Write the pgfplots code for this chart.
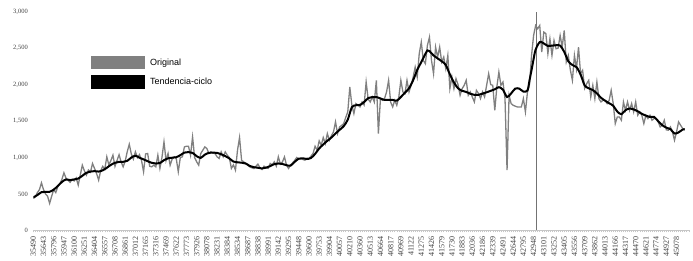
\documentclass[border=0pt]{standalone}
\usepackage{fontspec}
\setmainfont{Liberation Serif}
\setsansfont{Liberation Sans}
\usepackage{pgfplots}
\pgfplotsset{compat=1.18}
\definecolor{origgray}{RGB}{128,128,128}
\begin{document}
\begin{tikzpicture}
\useasboundingbox (-33.3pt,-30.5pt) rectangle (659.7pt,230.5pt);
\begin{axis}[
 at={(0pt,0pt)}, anchor=south west,
 scale only axis, width=656.5pt, height=218.8pt,
 xmin=0, xmax=321.5, ymin=0, ymax=3000,
 axis lines*=left,
 y axis line style={draw=none},
 x axis line style={draw=gray!45, line width=0.6pt},
 ytick={0,500,...,3000},
 ytick style={draw=none},
 xtick={0,5,...,315},
 xticklabels={35490,35643,35796,35947,36100,36251,36404,36557,36708,36861,37012,37165,37316,37469,37622,37773,37926,38078,38231,38384,38534,38687,38838,38991,39142,39295,39448,39600,39753,39904,40057,40210,40360,40513,40664,40817,40969,41122,41275,41426,41579,41730,41883,42036,42186,42339,42491,42644,42795,42948,43101,43252,43405,43556,43709,43862,44013,44166,44317,44470,44621,44774,44927,45078},
 minor xtick={0,1,...,321},
 xtick style={draw=gray!45, line width=0.5pt},
 minor tick style={draw=gray!45, line width=0.5pt},
 major tick length=2pt, minor tick length=2pt,
 tick align=outside,
 yticklabel style={font=\fontsize{6.5}{7}\selectfont, text=black!75},
 xticklabel style={font=\fontsize{8}{8.5}\selectfont, rotate=90, anchor=east, text=black!75},
 /pgf/number format/1000 sep={,},
 /pgf/number format/assume math mode=true,
 legend style={draw=none, fill=none, at={(0.0879,0.7975)}, anchor=north west, inner sep=0pt, outer sep=0pt, row sep=6pt, font=\fontsize{9}{10.8}\selectfont\sffamily, nodes={inner sep=2pt}, /tikz/every odd column/.append style={column sep=3pt}},
 legend cell align=left,
 legend image code/.code={\fill[#1] (0pt,-6pt) rectangle (52pt,6pt);},
]
\addplot[color=black!55, line width=1.5pt, forget plot] coordinates {(246.4,0) (246.4,3000)};
\addplot[color=origgray, line width=1.3pt] coordinates {
(0,440) (1,460) (2,520) (3,560) (4,654) (5,560) (6,500) (7,470) (8,372) (9,470)
(10,560) (11,520) (12,600) (13,640) (14,700) (15,791) (16,720) (17,690) (18,660) (19,700)
(20,680) (21,720) (22,622) (23,760) (24,896) (25,820) (26,760) (27,830) (28,800) (29,919)
(30,850) (31,780) (32,691) (33,820) (34,880) (35,840) (36,1010) (37,900) (38,960) (39,1033)
(40,880) (41,960) (42,1040) (43,940) (44,873) (45,950) (46,1080) (47,1183) (48,1050) (49,980)
(50,1079) (51,1000) (52,1040) (53,960) (54,805) (55,1050) (56,1056) (57,880) (58,873) (59,896)
(60,873) (61,1033) (62,851) (63,1000) (64,1215) (65,960) (66,1056) (67,896) (68,980) (69,1010)
(70,988) (71,805) (72,1000) (73,1010) (74,1146) (75,1155) (76,1155) (77,1033) (78,1283) (79,1000)
(80,942) (81,896) (82,1056) (83,1100) (84,1146) (85,1124) (86,1056) (87,1078) (88,1060) (89,1056)
(90,1010) (91,988) (92,1078) (93,1010) (94,1078) (95,1033) (96,1000) (97,851) (98,900) (99,828)
(100,1100) (101,1274) (102,964) (103,942) (104,920) (105,896) (106,873) (107,860) (108,850) (109,880)
(110,910) (111,860) (112,837) (113,882) (114,860) (115,851) (116,919) (117,900) (118,942) (119,882)
(120,1010) (121,910) (122,940) (123,1010) (124,896) (125,851) (126,900) (127,928) (128,960) (129,1001)
(130,980) (131,987) (132,974) (133,964) (134,990) (135,987) (136,1020) (137,1056) (138,1156) (139,1101)
(140,1229) (141,1170) (142,1274) (143,1192) (144,1329) (145,1238) (146,1300) (147,1352) (148,1489) (149,1329)
(150,1420) (151,1440) (152,1466) (153,1550) (154,1626) (155,1967) (156,1720) (157,1603) (158,1740) (159,1720)
(160,1694) (161,1762) (162,1720) (163,2036) (164,1800) (165,1762) (166,1831) (167,1762) (168,2059) (169,1330)
(170,1808) (171,1785) (172,1808) (173,1900) (174,2059) (175,1760) (176,1694) (177,1785) (178,1717) (179,1831)
(180,2059) (181,1900) (182,1876) (183,2059) (184,1899) (185,1990) (186,2100) (187,2241) (188,2105) (189,2424)
(190,2583) (191,2332) (192,2287) (193,2538) (194,2651) (195,2332) (196,2150) (197,2515) (198,2378) (199,2515)
(200,2310) (201,2378) (202,2219) (203,2401) (204,1945) (205,2105) (206,1945) (207,2082) (208,2000) (209,1854)
(210,1945) (211,1990) (212,2059) (213,1854) (214,1900) (215,1830) (216,1763) (217,1922) (218,1880) (219,1808)
(220,1900) (221,1831) (222,1991) (223,2150) (224,2000) (225,1991) (226,1648) (227,1968) (228,2173) (229,1991)
(230,2036) (231,1808) (232,828) (233,1854) (234,1740) (235,1717) (236,1705) (237,1694) (238,1694) (239,1694)
(240,1808) (241,1626) (242,1900) (243,2000) (244,2401) (245,2674) (246,2811) (247,2766) (248,2811) (249,2447)
(250,2720) (251,2700) (252,2424) (253,2629) (254,2401) (255,2606) (256,2492) (257,2500) (258,2674) (259,2515)
(260,2743) (261,2310) (262,2401) (263,2200) (264,2059) (265,2401) (266,2218) (267,2515) (268,2150) (269,2196)
(270,1950) (271,2014) (272,2059) (273,1831) (274,1991) (275,1808) (276,2036) (277,1808) (278,1763) (279,1785)
(280,1785) (281,1740) (282,1785) (283,1922) (284,1740) (285,1466) (286,1557) (287,1557) (288,1512) (289,1763)
(290,1648) (291,1763) (292,1648) (293,1740) (294,1626) (295,1763) (296,1580) (297,1626) (298,1580) (299,1466)
(300,1580) (301,1535) (302,1580) (303,1512) (304,1535) (305,1535) (306,1489) (307,1420) (308,1443) (309,1512)
(310,1380) (311,1375) (312,1420) (313,1352) (314,1238) (315,1352) (316,1489) (317,1443) (318,1398) (319,1390)
};
\addlegendentry{Original}
\addplot[color=black, line width=2pt, smooth] coordinates {
(0,454) (2,486) (4,525) (6,530) (8,531) (10,560) (12,610) (14,665) (16,700) (18,691)
(20,700) (22,712) (24,750) (26,791) (28,808) (30,814) (32,808) (34,825) (36,860) (38,900)
(40,928) (42,941) (44,941) (46,955) (48,1000) (50,1025) (52,998) (54,975) (56,950) (58,928)
(60,918) (62,925) (64,964) (66,990) (68,998) (70,1005) (72,1033) (74,1068) (76,1075) (78,1064)
(80,1019) (82,996) (84,1040) (86,1065) (88,1068) (90,1064) (92,1045) (94,1020) (96,988) (98,945)
(100,935) (102,930) (104,919) (106,885) (108,868) (110,860) (112,851) (114,862) (116,882) (118,910)
(120,919) (122,912) (124,895) (126,890) (128,941) (130,985) (132,990) (134,980) (136,995) (138,1050)
(140,1125) (142,1180) (144,1230) (146,1275) (148,1330) (150,1380) (152,1430) (154,1520) (156,1690) (158,1717)
(160,1722) (162,1762) (164,1815) (166,1830) (168,1830) (170,1810) (172,1790) (174,1792) (176,1790) (178,1780)
(180,1830) (182,1890) (184,1950) (186,2060) (188,2200) (190,2309) (192,2420) (193,2469) (194,2460) (196,2400)
(198,2360) (200,2320) (202,2270) (204,2140) (206,2030) (208,1950) (210,1915) (212,1900) (214,1875) (216,1860)
(218,1860) (220,1877) (222,1895) (224,1915) (226,1936) (228,1965) (230,1930) (232,1830) (234,1880) (236,1945)
(238,1945) (240,1905) (242,1920) (243,2059) (244,2200) (245,2350) (246,2480) (248,2583) (250,2565) (252,2530)
(254,2535) (256,2540) (258,2535) (260,2450) (262,2320) (264,2270) (266,2241) (268,2140) (270,1990) (272,1950)
(274,1925) (276,1880) (278,1820) (280,1780) (282,1745) (284,1710) (286,1630) (288,1595) (290,1650) (292,1672)
(294,1660) (296,1635) (298,1600) (300,1575) (302,1557) (304,1557) (306,1500) (308,1445) (310,1410) (312,1390)
(314,1330) (316,1345) (318,1384) (319,1384)
};
\addlegendentry{Tendencia-ciclo}
\end{axis}
\end{tikzpicture}
\end{document}
